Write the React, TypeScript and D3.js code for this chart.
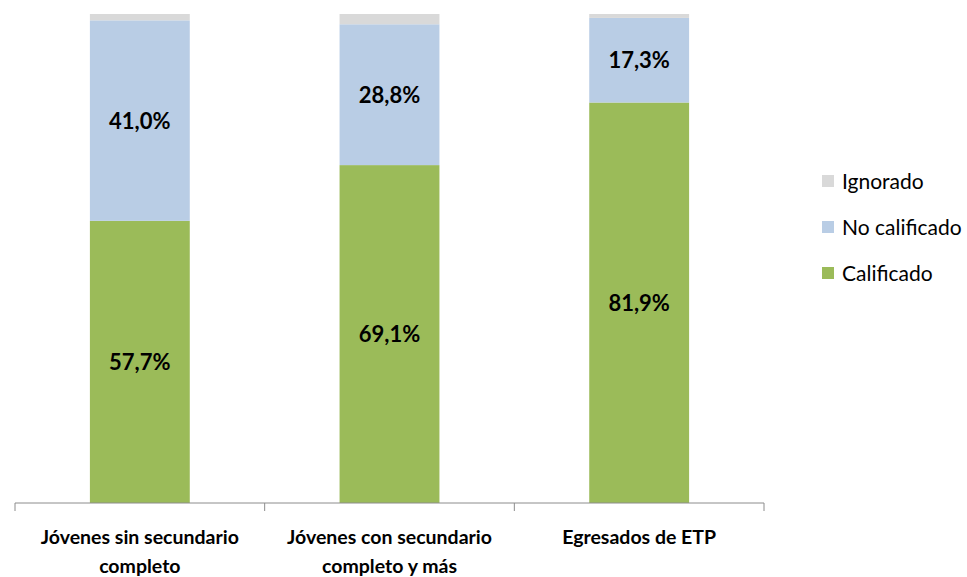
import React from "react";
import * as d3 from "d3";

const categories = [
  ["Jóvenes sin secundario", "completo"],
  ["Jóvenes con secundario", "completo y más"],
  ["Egresados de ETP"],
];
const calificado = [57.7, 69.1, 81.9];
const noCalificado = [41.0, 28.8, 17.3];
const ignorado = [1.3, 2.1, 0.8];

const seriesNames = ["Calificado", "No calificado", "Ignorado"];
const colors = ["#9BBB59", "#B9CDE5", "#D9D9D9"];

const font = "Lato, 'Open Sans', sans-serif";

const App = () => {
  const width = 967;
  const height = 577;
  const keys = categories.map((c) => c.join(" "));
  const rows = keys.map((k, i) => ({
    key: k,
    Calificado: calificado[i],
    "No calificado": noCalificado[i],
    Ignorado: ignorado[i],
  }));
  const stack = d3.stack<any>().keys(seriesNames)(rows);

  const x = d3
    .scaleBand()
    .domain(keys)
    .range([15, 764])
    .paddingInner(0.6)
    .paddingOuter(0.3);
  const y = d3.scaleLinear().domain([0, 100]).range([503, 14]);
  const fmt = (v: number) => v.toFixed(1).replace(".", ",") + "%";
  const step = x.step();
  const bounds = d3.range(keys.length + 1).map((i) => 15 + i * step);

  return (
    <div style={{ position: "absolute", left: 0, top: 0 }}>
      <svg width={width} height={height} style={{ display: "block" }}>
        <rect width={width} height={height} fill="#fff" />
        {stack.map((s, si) => (
          <g key={si}>
            {s.map((d, i) => (
              <rect
                key={i}
                x={x(keys[i])}
                width={x.bandwidth()}
                y={y(d[1])}
                height={y(d[0]) - y(d[1])}
                fill={colors[si]}
              />
            ))}
          </g>
        ))}
        {stack.slice(0, 2).map((s, si) =>
          s.map((d, i) => (
            <text
              key={`${si}-${i}`}
              x={(x(keys[i]) as number) + x.bandwidth() / 2}
              y={(y(d[0]) + y(d[1])) / 2}
              dy="0.36em"
              textAnchor="middle"
              fontFamily={font}
              fontWeight="bold"
              fontSize={22}
              fill="#000"
            >
              {fmt(d[1] - d[0])}
            </text>
          ))
        )}
        <line x1={15} x2={764} y1={503} y2={503} stroke="#8c8c8c" strokeWidth={1} />
        {bounds.map((b, i) => (
          <line key={i} x1={b} x2={b} y1={503} y2={511} stroke="#8c8c8c" strokeWidth={1} />
        ))}
        {categories.map((lines, i) => (
          <text
            key={i}
            x={(x(keys[i]) as number) + x.bandwidth() / 2}
            textAnchor="middle"
            fontFamily={font}
            fontWeight="bold"
            fontSize={19.5}
            fill="#000"
          >
            {lines.map((l, li) => (
              <tspan key={li} x={(x(keys[i]) as number) + x.bandwidth() / 2} y={544 + li * 29}>
                {l}
              </tspan>
            ))}
          </text>
        ))}
        {[2, 1, 0].map((si, li) => (
          <g key={si} transform={`translate(822,${175 + li * 46})`}>
            <rect width={12} height={12} fill={colors[si]} />
            <text x={20} y={14} fontFamily={font} fontSize={21} fill="#000">
              {seriesNames[si]}
            </text>
          </g>
        ))}
      </svg>
    </div>
  );
};

export default App;
